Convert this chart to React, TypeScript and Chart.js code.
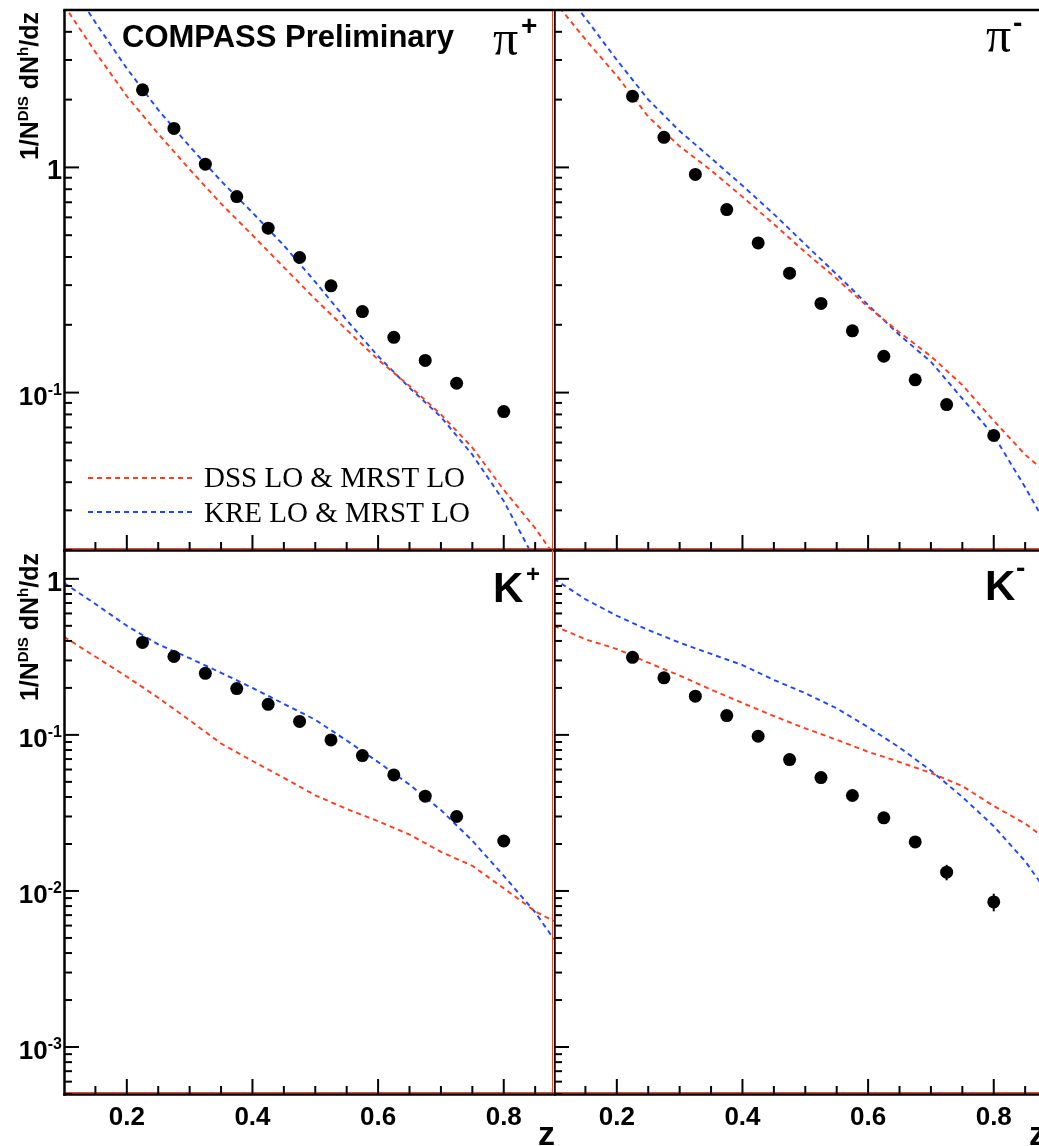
import React, { useEffect, useRef } from 'react';
import { Chart, registerables } from 'chart.js';

Chart.register(...registerables);

// ---------------- data ----------------
const zBins = [0.225, 0.275, 0.325, 0.375, 0.425, 0.475, 0.525, 0.575, 0.625, 0.675, 0.725, 0.8];

const piPlusData = [2.21, 1.49, 1.034, 0.742, 0.537, 0.398, 0.298, 0.229, 0.176, 0.139, 0.11, 0.0824];
const piPlusErr = [0.02, 0.015, 0.01, 0.007, 0.005, 0.004, 0.003, 0.0025, 0.002, 0.0018, 0.0015, 0.0012];
const piMinusData = [2.07, 1.36, 0.931, 0.65, 0.462, 0.339, 0.249, 0.188, 0.145, 0.114, 0.0885, 0.0645];
const piMinusErr = [0.02, 0.014, 0.009, 0.006, 0.0045, 0.0035, 0.0026, 0.002, 0.0017, 0.0015, 0.0013, 0.0011];
const kPlusData = [0.391, 0.318, 0.248, 0.198, 0.157, 0.122, 0.0929, 0.0737, 0.0554, 0.0405, 0.03, 0.0209];
const kPlusErr = [0.004, 0.003, 0.0025, 0.002, 0.0017, 0.0014, 0.0011, 0.001, 0.0009, 0.0008, 0.0008, 0.0008];
const kMinusData = [0.314, 0.232, 0.177, 0.133, 0.098, 0.0695, 0.0533, 0.0409, 0.0294, 0.0206, 0.0132, 0.0085];
const kMinusErr = [0.004, 0.003, 0.0025, 0.002, 0.0015, 0.0012, 0.001, 0.001, 0.001, 0.001, 0.0015, 0.0011];

const zCurve = [0.1, 0.15, 0.2, 0.25, 0.3, 0.35, 0.4, 0.45, 0.5, 0.55, 0.6, 0.65, 0.7, 0.75, 0.8, 0.85, 0.88];
const dssPiPlus = [5.25, 3.25, 2.07, 1.41, 0.98, 0.69, 0.5, 0.36, 0.26, 0.19, 0.14, 0.107, 0.08, 0.057, 0.037, 0.025, 0.019];
const krePiPlus = [7.2, 4.4, 2.75, 1.8, 1.24, 0.87, 0.63, 0.45, 0.31, 0.21, 0.145, 0.105, 0.078, 0.053, 0.033, 0.018, 0.013];
const dssPiMinus = [5.5, 3.7, 2.55, 1.68, 1.24, 0.97, 0.74, 0.56, 0.42, 0.32, 0.24, 0.185, 0.145, 0.108, 0.075, 0.053, 0.045];
const krePiMinus = [7.0, 4.6, 3.0, 2.0, 1.45, 1.1, 0.83, 0.62, 0.455, 0.335, 0.245, 0.18, 0.137, 0.094, 0.0645, 0.038, 0.027];
const dssKPlus = [0.425, 0.317, 0.236, 0.173, 0.124, 0.088, 0.068, 0.053, 0.041, 0.0335, 0.028, 0.023, 0.0178, 0.0145, 0.0104, 0.0074, 0.0064];
const kreKPlus = [0.94, 0.69, 0.5, 0.38, 0.31, 0.25, 0.2, 0.158, 0.125, 0.092, 0.067, 0.048, 0.033, 0.021, 0.0125, 0.0073, 0.0049];
const dssKMinus = [0.5, 0.41, 0.355, 0.29, 0.24, 0.195, 0.16, 0.132, 0.11, 0.093, 0.078, 0.067, 0.057, 0.047, 0.035, 0.027, 0.022];
const kreKMinus = [1.0, 0.74, 0.58, 0.47, 0.39, 0.33, 0.28, 0.225, 0.185, 0.148, 0.112, 0.083, 0.059, 0.04, 0.026, 0.0155, 0.0105];

const seriesNames = ['DSS LO & MRST LO', 'KRE LO & MRST LO'];
const xMajorTicks = [0.2, 0.4, 0.6, 0.8];
const xMinorTicks = [0.15, 0.25, 0.3, 0.35, 0.45, 0.5, 0.55, 0.65, 0.7, 0.75, 0.85];
const topDecadeLabels = [1, 0.1];
const bottomDecadeLabels = [1, 0.1, 0.01, 0.001];
const decadeBases = [0.0001, 0.001, 0.01, 0.1, 1];

// ---------------- styles ----------------
const RED = '#ff3c1e';
const BLUE = '#1f46ff';
const SANS = '"Liberation Sans", Arial, sans-serif';
const SERIF = '"Liberation Serif", "Times New Roman", serif';

type Txt = { t: string; font: string; x: number; y: number; align?: CanvasTextAlign };

type PanelCfg = {
  left: number; top: number; w: number; h: number;
  padding: { left: number; top: number; right: number; bottom: number };
  yMin: number; yMax: number;
  points: number[]; errs: number[]; dss: number[]; kre: number[];
  yLabels: number[];
  xLabels: boolean;
  topLine: boolean;
  texts: Txt[];
  legend: boolean;
  yTitleTop: number | null;
};

function line(ctx: CanvasRenderingContext2D, x1: number, y1: number, x2: number, y2: number) {
  ctx.beginPath();
  ctx.moveTo(x1, y1);
  ctx.lineTo(x2, y2);
  ctx.stroke();
}

function drawYTitle(ctx: CanvasRenderingContext2D, xBase: number, yTop: number) {
  const main = `bold 25px ${SANS}`;
  const sup = `bold 15px ${SANS}`;
  const parts = [
    { t: '1/N', f: main, dy: 0 },
    { t: 'DIS', f: sup, dy: -10 },
    { t: ' dN', f: main, dy: 0 },
    { t: 'h', f: sup, dy: -10 },
    { t: '/dz', f: main, dy: 0 },
  ];
  let total = 0;
  const widths = parts.map((p) => {
    ctx.font = p.f;
    const w = ctx.measureText(p.t).width;
    total += w;
    return w;
  });
  ctx.save();
  ctx.translate(xBase, yTop);
  ctx.rotate(-Math.PI / 2);
  ctx.textAlign = 'left';
  ctx.textBaseline = 'alphabetic';
  ctx.fillStyle = '#000';
  let x = -total;
  parts.forEach((p, i) => {
    ctx.font = p.f;
    ctx.fillText(p.t, x, p.dy);
    x += widths[i];
  });
  ctx.restore();
}

function makeDecor(cfg: PanelCfg) {
  return {
    id: 'panelDecor',
    beforeDatasetsDraw(chart: any) {
      const { ctx, scales } = chart;
      const x = scales.x;
      const y = scales.y;
      ctx.save();
      ctx.strokeStyle = '#000';
      ctx.lineWidth = 2;
      cfg.points.forEach((v, i) => {
        const e = cfg.errs[i];
        const px = x.getPixelForValue(zBins[i]);
        line(ctx, px, y.getPixelForValue(v - e), px, y.getPixelForValue(v + e));
      });
      ctx.restore();
    },
    afterDraw(chart: any) {
      const { ctx, chartArea: ca, scales } = chart;
      const x = scales.x;
      const y = scales.y;
      ctx.save();
      // frame (red) and axes (black)
      ctx.strokeStyle = RED;
      ctx.lineWidth = 1;
      line(ctx, ca.right - 1.5, ca.top, ca.right - 1.5, ca.bottom);
      line(ctx, ca.left, ca.bottom - 1.5, ca.right, ca.bottom - 1.5);
      ctx.strokeStyle = '#000';
      ctx.lineWidth = 2.5;
      line(ctx, ca.left + 0.5, ca.top, ca.left + 0.5, ca.bottom + 1.75);
      line(ctx, ca.left - 0.75, ca.bottom + 0.5, ca.right, ca.bottom + 0.5);
      if (cfg.topLine) line(ctx, ca.left - 0.75, ca.top, ca.right, ca.top);

      // y ticks (inward)
      ctx.lineWidth = 2;
      decadeBases.forEach((d) => {
        for (let k = 1; k <= 9; k++) {
          const v = d * k;
          if (v < cfg.yMin * 0.999 || v > cfg.yMax * 1.001) continue;
          const py = y.getPixelForValue(v);
          line(ctx, ca.left, py, ca.left + (k === 1 ? 15 : 8), py);
        }
      });
      // x ticks (inward)
      xMajorTicks.forEach((v) => {
        const px = x.getPixelForValue(v);
        line(ctx, px, ca.bottom, px, ca.bottom - 15);
      });
      xMinorTicks.forEach((v) => {
        const px = x.getPixelForValue(v);
        line(ctx, px, ca.bottom, px, ca.bottom - 8);
      });

      // y tick labels
      ctx.fillStyle = '#000';
      ctx.textBaseline = 'alphabetic';
      cfg.yLabels.forEach((v) => {
        const py = y.getPixelForValue(v);
        const xr = ca.left - 2;
        const base = py + 12;
        const exp = Math.round(Math.log10(v));
        if (exp === 0) {
          ctx.font = `bold 27px ${SANS}`;
          ctx.textAlign = 'right';
          ctx.fillText('1', xr, base);
        } else {
          ctx.font = `bold 16px ${SANS}`;
          ctx.textAlign = 'right';
          const s = String(exp);
          const sw = ctx.measureText(s).width;
          ctx.fillText(s, xr, base - 10);
          ctx.font = `bold 26px ${SANS}`;
          ctx.fillText('10', xr - sw, base);
        }
      });

      // texts in page coordinates
      ctx.translate(-cfg.left, -cfg.top);
      cfg.texts.forEach((tx) => {
        ctx.font = tx.font;
        ctx.textAlign = tx.align || 'left';
        ctx.textBaseline = 'alphabetic';
        ctx.fillStyle = '#000';
        ctx.fillText(tx.t, tx.x, tx.y);
      });

      if (cfg.legend) {
        const ds = chart.data.datasets;
        const rows = [
          { ds: ds[1], y: 478, ty: 487 },
          { ds: ds[2], y: 512, ty: 522 },
        ];
        rows.forEach((r) => {
          ctx.strokeStyle = r.ds.borderColor;
          ctx.lineWidth = 1.8;
          ctx.setLineDash([5, 4]);
          line(ctx, 88, r.y, 195, r.y);
          ctx.setLineDash([]);
          ctx.font = `29px ${SERIF}`;
          ctx.textAlign = 'left';
          ctx.fillStyle = '#000';
          ctx.fillText(r.ds.label, 204, r.ty);
        });
      }

      if (cfg.yTitleTop !== null) drawYTitle(ctx, 38, cfg.yTitleTop);
      ctx.restore();
    },
  };
}

function buildConfig(cfg: PanelCfg): any {
  const pts = zBins.map((z, i) => ({ x: z, y: cfg.points[i] }));
  const dss = zCurve.map((z, i) => ({ x: z, y: cfg.dss[i] }));
  const kre = zCurve.map((z, i) => ({ x: z, y: cfg.kre[i] }));
  const xScale: any = {
    type: 'linear',
    min: 0.1,
    max: 0.88,
    display: cfg.xLabels,
    grid: { display: false, drawTicks: false },
    border: { display: false },
    ticks: {
      color: '#000',
      font: { family: SANS, weight: 'bold', size: 26 },
      padding: 8,
      maxRotation: 0,
      autoSkip: false,
      callback: (v: number) => v.toFixed(1),
    },
    afterBuildTicks: (s: any) => {
      s.ticks = xMajorTicks.map((v) => ({ value: v }));
    },
  };
  if (cfg.xLabels) {
    xScale.afterFit = (s: any) => {
      s.height = 52;
    };
  }
  return {
    type: 'scatter',
    data: {
      datasets: [
        {
          label: 'COMPASS',
          data: pts,
          showLine: false,
          pointRadius: 6.5,
          pointHoverRadius: 6.5,
          pointBackgroundColor: '#000',
          pointBorderWidth: 0,
          borderColor: '#000',
        },
        {
          label: seriesNames[0],
          data: dss,
          showLine: true,
          borderColor: RED,
          borderWidth: 1.9,
          borderDash: [5, 4],
          pointRadius: 0,
          tension: 0,
        },
        {
          label: seriesNames[1],
          data: kre,
          showLine: true,
          borderColor: BLUE,
          borderWidth: 1.9,
          borderDash: [5, 4],
          pointRadius: 0,
          tension: 0,
        },
      ],
    },
    options: {
      animation: false,
      responsive: false,
      maintainAspectRatio: false,
      devicePixelRatio: 1,
      events: [],
      layout: { padding: cfg.padding, autoPadding: false },
      plugins: { legend: { display: false }, tooltip: { enabled: false } },
      scales: {
        x: xScale,
        y: {
          type: 'logarithmic',
          min: cfg.yMin,
          max: cfg.yMax,
          display: false,
        },
      },
    },
    plugins: [makeDecor(cfg)],
  };
}

function Panel({ cfg }: { cfg: PanelCfg }) {
  const ref = useRef<HTMLCanvasElement>(null);
  useEffect(() => {
    const chart = new Chart(ref.current as HTMLCanvasElement, buildConfig(cfg));
    return () => chart.destroy();
  }, []);
  return (
    <canvas
      ref={ref}
      width={cfg.w}
      height={cfg.h}
      style={{ position: 'absolute', left: cfg.left, top: cfg.top, width: cfg.w, height: cfg.h }}
    />
  );
}

const panels: PanelCfg[] = [
  {
    left: 0, top: 0, w: 560, h: 552,
    padding: { left: 64, top: 10, right: 6, bottom: 2 },
    yMin: 0.02, yMax: 5,
    points: piPlusData, errs: piPlusErr, dss: dssPiPlus, kre: krePiPlus,
    yLabels: topDecadeLabels, xLabels: false, topLine: true, legend: true,
    yTitleTop: 12,
    texts: [
      { t: 'COMPASS Preliminary', font: `bold 31px ${SANS}`, x: 122, y: 47 },
      { t: 'π', font: `50px ${SERIF}`, x: 493, y: 55 },
      { t: '+', font: `bold 28px ${SANS}`, x: 521, y: 35 },
    ],
  },
  {
    left: 554, top: 0, w: 496, h: 552,
    padding: { left: 0, top: 10, right: 6, bottom: 2 },
    yMin: 0.02, yMax: 5,
    points: piMinusData, errs: piMinusErr, dss: dssPiMinus, kre: krePiMinus,
    yLabels: [], xLabels: false, topLine: true, legend: false,
    yTitleTop: null,
    texts: [
      { t: 'π', font: `50px ${SERIF}`, x: 986, y: 52 },
      { t: '-', font: `bold 28px ${SANS}`, x: 1013, y: 32 },
    ],
  },
  {
    left: 0, top: 548, w: 560, h: 598,
    padding: { left: 64, top: 2, right: 6, bottom: 0 },
    yMin: 0.0005, yMax: 1.53,
    points: kPlusData, errs: kPlusErr, dss: dssKPlus, kre: kreKPlus,
    yLabels: bottomDecadeLabels, xLabels: true, topLine: false, legend: false,
    yTitleTop: 553,
    texts: [
      { t: 'K', font: `bold 42px ${SANS}`, x: 493, y: 602 },
      { t: '+', font: `bold 24px ${SANS}`, x: 526, y: 582 },
      { t: 'z', font: `bold 34px ${SANS}`, x: 555, y: 1145, align: 'right' },
    ],
  },
  {
    left: 554, top: 548, w: 496, h: 598,
    padding: { left: 0, top: 2, right: 6, bottom: 0 },
    yMin: 0.0005, yMax: 1.53,
    points: kMinusData, errs: kMinusErr, dss: dssKMinus, kre: kreKMinus,
    yLabels: [], xLabels: true, topLine: false, legend: false,
    yTitleTop: null,
    texts: [
      { t: 'K', font: `bold 42px ${SANS}`, x: 985, y: 600 },
      { t: '-', font: `bold 28px ${SANS}`, x: 1016, y: 577 },
      { t: 'z', font: `bold 34px ${SANS}`, x: 1046, y: 1145, align: 'right' },
    ],
  },
];

export default function App() {
  return (
    <div
      style={{
        position: 'fixed',
        left: 0,
        top: 0,
        width: 1039,
        height: 1146,
        overflow: 'hidden',
        background: '#fff',
      }}
    >
      {panels.map((p, i) => (
        <Panel key={i} cfg={p} />
      ))}
    </div>
  );
}
